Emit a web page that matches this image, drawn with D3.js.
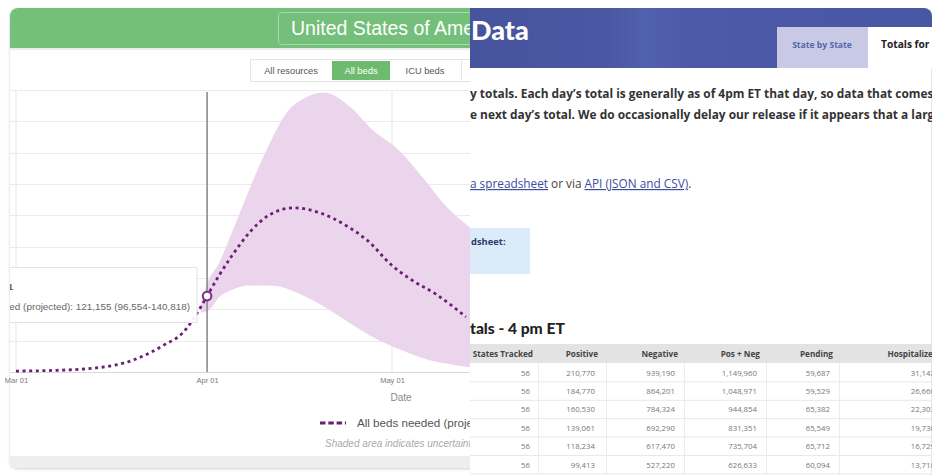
<!DOCTYPE html>
<html><head><meta charset="utf-8">
<script src="https://cdn.jsdelivr.net/npm/d3@7"></script>
<style>
html,body{margin:0;padding:0;background:#fff;}
svg{display:block;}
</style></head>
<body>
<script>
// ---- Left chart data (IHME-style projection, all beds) ----
const meanDates = ["2020-03-01","2020-03-07","2020-03-14","2020-03-20","2020-03-25","2020-03-28","2020-03-31","2020-04-01","2020-04-03","2020-04-05","2020-04-08","2020-04-11","2020-04-15","2020-04-19","2020-04-24","2020-04-27","2020-05-01","2020-05-04","2020-05-08","2020-05-13"];
const meanBeds  = [1500,2500,6500,19000,43000,62000,104000,121155,155000,185000,224000,250000,262000,255000,231000,210000,170000,148000,125000,88000];
const bandDates = ["2020-03-31","2020-04-01","2020-04-03","2020-04-05","2020-04-08","2020-04-11","2020-04-14","2020-04-17","2020-04-20","2020-04-24","2020-04-28","2020-05-02","2020-05-06","2020-05-10","2020-05-14"];
const lowerBeds = [95000,96554,120000,131000,138000,138000,133000,120000,104000,79000,55000,37000,22000,13000,7000];
const upperBeds = [110000,140818,175000,222000,295000,362000,415000,438000,446000,425000,385000,355000,310000,262000,228000];
const yTicks = [0,50000,100000,150000,200000,250000,300000,350000,400000,450000];
const xTickDates = ["2020-03-01","2020-04-01","2020-05-01"];
const todayDate = "2020-04-01";
const resourceButtons = ["All resources","All beds","ICU beds"];

// ---- Right table data ----
const tableHeaders = ["States Tracked","Positive","Negative","Pos + Neg","Pending","Hospitalized"];
const statesTracked = [56,56,56,56,56,56];
const positive = ["210,770","184,770","160,530","139,061","118,234","99,413"];
const negative = ["939,190","864,201","784,324","692,290","617,470","527,220"];
const posNeg   = ["1,149,960","1,048,971","944,854","831,351","735,704","626,633"];
const pending  = ["59,687","59,529","65,382","65,549","65,712","60,094"];
const hospitalized = ["31,142","26,660","22,303","19,730","16,729","13,718"];

const W = 939, H = 475;
const parse = d3.utcParse("%Y-%m-%d");
const svg = d3.select("body").append("svg").attr("width", W).attr("height", H);
const defs = svg.append("defs");
const sans = "Liberation Sans, Arial, sans-serif";

defs.append("clipPath").attr("id","leftClip").append("rect").attr("x",0).attr("y",0).attr("width",470).attr("height",H);
defs.append("clipPath").attr("id","plotClip").append("rect").attr("x",10).attr("y",88).attr("width",460).attr("height",290);
defs.append("clipPath").attr("id","rightClip").append("rect").attr("x",470).attr("y",0).attr("width",462).attr("height",H);
const g1 = defs.append("linearGradient").attr("id","blueGrad").attr("x1","0").attr("x2","1").attr("y1","0").attr("y2","0");
[["0%","#46539d"],["30%","#4a58a3"],["38%","#5261ad"],["46%","#4c5aa7"],["100%","#4857a4"]].forEach(s=>g1.append("stop").attr("offset",s[0]).attr("stop-color",s[1]));
const sh = defs.append("filter").attr("id","shadow").attr("x","-5%").attr("y","-5%").attr("width","110%").attr("height","110%");
sh.append("feDropShadow").attr("dx",0).attr("dy",1).attr("stdDeviation",1.5).attr("flood-color","#000").attr("flood-opacity",0.18);

// ================= LEFT PANEL =================
const L = svg.append("g").attr("clip-path","url(#leftClip)");
L.append("rect").attr("x",10).attr("y",8).attr("width",480).attr("height",460).attr("rx",8).attr("fill","#fff").attr("filter","url(#shadow)");
L.append("rect").attr("x",10).attr("y",456).attr("width",480).attr("height",12).attr("fill","#eeeeee");
L.append("path").attr("d","M10,48 V16 a8,8 0 0 1 8,-8 H490 V48 Z").attr("fill","#74bf79");
L.append("rect").attr("x",10).attr("y",48).attr("width",480).attr("height",2).attr("fill","#e6f0e6");
L.append("rect").attr("x",278.5).attr("y",12.5).attr("width",220).attr("height",32).attr("rx",3).attr("fill","none").attr("stroke","#a9d8ac").attr("stroke-width",1);
L.append("text").attr("x",291).attr("y",35).attr("fill","#fff").attr("font-family",sans).attr("font-size",19.5).text("United States of America");

// buttons
const btnX = [253,332,394], btnW = [76,58,62];
L.append("rect").attr("x",250.5).attr("y",59.5).attr("width",240).attr("height",22).attr("fill","#fff").attr("stroke","#e3e3e3");
resourceButtons.forEach((b,i)=>{
  if(i===1) L.append("rect").attr("x",btnX[i]).attr("y",61).attr("width",btnW[i]).attr("height",19).attr("fill","#6cbb6e");
  L.append("text").attr("x",btnX[i]+btnW[i]/2).attr("y",74).attr("text-anchor","middle")
   .attr("font-family",sans).attr("font-size",9.3)
   .attr("fill", i===1?"#fff":"#555").text(b);
});
L.append("line").attr("x1",461.5).attr("x2",461.5).attr("y1",61).attr("y2",80).attr("stroke","#e3e3e3");

// scales
const x = d3.scaleUtc().domain([parse("2020-03-01"), parse("2020-05-01")]).range([16, 392]);
const y = d3.scaleLinear().domain([0, 450000]).range([372, 90]);

const P = L.append("g").attr("clip-path","url(#plotClip)");
P.selectAll(".hg").data(yTicks).join("line")
 .attr("x1",10).attr("x2",470).attr("y1",d=>Math.round(y(d))+0.5).attr("y2",d=>Math.round(y(d))+0.5)
 .attr("stroke", d=>d===0?"#d8d8d8":"#ebebeb").attr("stroke-width",1.2);
P.selectAll(".vg").data(xTickDates.filter(d=>d!==todayDate)).join("line")
 .attr("x1",d=>x(parse(d))).attr("x2",d=>x(parse(d))).attr("y1",90).attr("y2",372)
 .attr("stroke","#ebebeb").attr("stroke-width",1.2);

// band
const band = bandDates.map((d,i)=>({date:parse(d), lo:lowerBeds[i], hi:upperBeds[i]}));
P.append("path").datum(band)
 .attr("d", d3.area().curve(d3.curveMonotoneX).x(d=>x(d.date)).y0(d=>y(d.lo)).y1(d=>y(d.hi)))
 .attr("fill","#e9d3eb").attr("opacity",0.95);

// today line
P.append("line").attr("x1",x(parse(todayDate))).attr("x2",x(parse(todayDate))).attr("y1",92).attr("y2",372)
 .attr("stroke","#8a8a8a").attr("stroke-width",1.6);

// mean line
const mean = meanDates.map((d,i)=>({date:parse(d), v:meanBeds[i]}));
P.append("path").datum(mean)
 .attr("d", d3.line().curve(d3.curveMonotoneX).x(d=>x(d.date)).y(d=>y(d.v)))
 .attr("fill","none").attr("stroke","#6b1f74").attr("stroke-width",2.8).attr("stroke-dasharray","3 3.6");

// tooltip box
const tIdx = meanDates.indexOf(todayDate);
const bIdx = bandDates.indexOf(todayDate);
P.append("rect").attr("x",-10).attr("y",267.5).attr("width",207).attr("height",55).attr("fill","#fff").attr("fill-opacity",0.93).attr("stroke","#e2e2e2");
P.append("text").attr("x",13).attr("y",290).attr("text-anchor","end").attr("font-family",sans).attr("font-size",9).attr("fill","#555").attr("font-weight","bold").text("April 1");
P.append("text").attr("x",190).attr("y",310).attr("text-anchor","end").attr("font-family",sans).attr("font-size",9.9).attr("fill","#666")
 .text("All beds needed (projected):  " + d3.format(",")(meanBeds[tIdx]) + " (" + d3.format(",")(lowerBeds[bIdx]) + "-" + d3.format(",")(upperBeds[bIdx]) + ")");
P.append("circle").attr("cx",x(parse(todayDate))).attr("cy",y(meanBeds[tIdx])).attr("r",4.3)
 .attr("fill","#fff").attr("stroke","#7a2c84").attr("stroke-width",2);

// x axis labels
const xa = L.append("g").attr("transform","translate(0,372)")
 .call(d3.axisBottom(x).tickValues(xTickDates.map(parse)).tickFormat(d3.utcFormat("%b %d")).tickSize(0).tickPadding(6));
xa.select(".domain").remove();
xa.selectAll("text").attr("font-family",sans).attr("font-size",7.5).attr("fill","#7a7a7a");
L.append("text").attr("x",401).attr("y",401).attr("text-anchor","middle").attr("font-family",sans).attr("font-size",10).attr("fill","#8a8a8a").text("Date");

// legend
L.append("line").attr("x1",320).attr("x2",346).attr("y1",423).attr("y2",423).attr("stroke","#6b1f74").attr("stroke-width",3).attr("stroke-dasharray","5.5 2.8");
L.append("text").attr("x",357).attr("y",427).attr("font-family",sans).attr("font-size",11.6).attr("fill","#555").text("All beds needed (projected)");
L.append("text").attr("x",325).attr("y",447).attr("font-family",sans).attr("font-size",10).attr("font-style","italic").attr("fill","#aaa").text("Shaded area indicates uncertainty");

// ================= RIGHT PANEL =================
const R = svg.append("g").attr("clip-path","url(#rightClip)");
R.append("rect").attr("x",470).attr("y",8).attr("width",462).attr("height",467).attr("fill","#fff");
R.append("line").attr("x1",931.5).attr("x2",931.5).attr("y1",20).attr("y2",475).attr("stroke","#e6e6e6");
R.append("path").attr("d","M470,8 H924 a8,8 0 0 1 8,8 V68 H470 Z").attr("fill","url(#blueGrad)");
R.append("text").attr("x",471).attr("y",40).attr("fill","#fff").attr("font-family","Lato, sans-serif").attr("font-weight","900").attr("font-size",27).text("Data");
R.append("rect").attr("x",777).attr("y",27).attr("width",91).attr("height",41).attr("fill","#c8cae5");
R.append("text").attr("x",822).attr("y",48).attr("text-anchor","middle").attr("fill","#5666ac").attr("font-family","Open Sans, sans-serif").attr("font-weight","bold").attr("font-size",8.6).text("State by State");
R.append("rect").attr("x",868).attr("y",27).attr("width",70).attr("height",41).attr("fill","#fff");
R.append("text").attr("x",881).attr("y",48).attr("fill","#222").attr("font-family","Open Sans, sans-serif").attr("font-weight","bold").attr("font-size",10.2).text("Totals for US");

const bodyFont = "Open Sans, sans-serif";
R.append("text").attr("x",470).attr("y",98).attr("fill","#333").attr("font-family",bodyFont).attr("font-weight","bold").attr("font-size",11.9)
 .text("y totals. Each day\u2019s total is generally as of 4pm ET that day, so data that comes in after 4pm ET is");
R.append("text").attr("x",470).attr("y",119).attr("fill","#333").attr("font-family",bodyFont).attr("font-weight","bold").attr("font-size",11.9)
 .text("e next day\u2019s total. We do occasionally delay our release if it appears that a large");
const linkT = R.append("text").attr("x",470).attr("y",188).attr("font-family",bodyFont).attr("font-size",11.8).attr("fill","#444");
linkT.append("tspan").attr("fill","#3c4c9f").attr("text-decoration","underline").text("a spreadsheet");
linkT.append("tspan").text(" or via ");
linkT.append("tspan").attr("fill","#3c4c9f").attr("text-decoration","underline").text("API (JSON and CSV)");
linkT.append("tspan").text(".");
R.append("rect").attr("x",470).attr("y",228).attr("width",60).attr("height",46).attr("fill","#dcebfa");
R.append("text").attr("x",471).attr("y",245).attr("fill","#2c3a68").attr("font-family",bodyFont).attr("font-weight","bold").attr("font-size",9.4).text("dsheet:");
R.append("text").attr("x",470).attr("y",334).attr("fill","#222").attr("font-family","Lato, sans-serif").attr("font-weight","900").attr("font-size",15.6).text("tals - 4 pm ET");

// table
const colRight = [533, 598, 678, 760, 833, 938];
const colDiv = [538, 606, 684, 766, 839];
const rowY0 = 363, rowH = 18.4;
R.append("rect").attr("x",470).attr("y",344).attr("width",462).attr("height",19).attr("fill","#e3e3e3");
R.selectAll(".th").data(tableHeaders).join("text")
 .attr("x",(d,i)=>colRight[i]).attr("y",357).attr("text-anchor","end")
 .attr("font-family",bodyFont).attr("font-weight","bold").attr("font-size",8.2).attr("fill","#444").text(d=>d);
const rows = statesTracked.map((s,i)=>[String(s), positive[i], negative[i], posNeg[i], pending[i], hospitalized[i]]);
rows.forEach((r,ri)=>{
  const yy = rowY0 + ri*rowH;
  R.append("line").attr("x1",470).attr("x2",932).attr("y1",yy+rowH+0.5).attr("y2",yy+rowH+0.5).attr("stroke","#e8e8e8");
  R.selectAll(null).data(r).join("text")
   .attr("x",(d,i)=>colRight[i]-3).attr("y",yy+12.5).attr("text-anchor","end")
   .attr("font-family",bodyFont).attr("font-size",7.8).attr("fill","#777").text(d=>d);
});
R.selectAll(".vd").data(colDiv).join("line")
 .attr("x1",d=>d+0.5).attr("x2",d=>d+0.5).attr("y1",363).attr("y2",475).attr("stroke","#ececec");
</script>
</body></html>
